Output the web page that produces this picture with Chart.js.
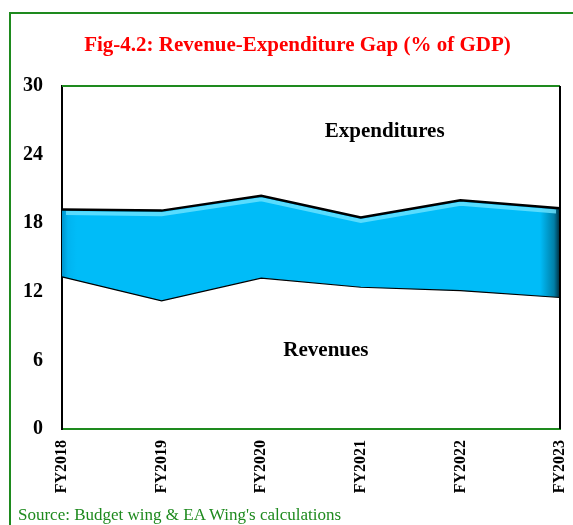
<!DOCTYPE html>
<html>
<head>
<meta charset="utf-8">
<script src="https://cdn.jsdelivr.net/npm/chart.js@4.4.0/dist/chart.umd.min.js"></script>
<style>
    html, body { margin: 0; padding: 0; background: #fff; width: 573px; height: 525px; overflow: hidden; }
    #frame { position: absolute; left: 9px; top: 12px; width: 620px; height: 620px; border: 2px solid #1e8a1e; box-sizing: border-box; }
    #wrap { position: absolute; left: 0; top: 0; width: 573px; height: 525px; }
    #source { position: absolute; left: 18px; top: 505px; font: 17px "Liberation Serif", serif; color: #1e8a1e; white-space: nowrap; }
</style>
</head>
<body>
<div id="frame"></div>
<div id="wrap"><canvas id="gapChart" width="573" height="525"></canvas></div>
<div id="source">Source: Budget wing &amp; EA Wing's calculations</div>

<script>
// === Dữ liệu ===
const years = ['FY2018', 'FY2019', 'FY2020', 'FY2021', 'FY2022', 'FY2023'];
const revenues = [13.3, 11.2, 13.2, 12.4, 12.1, 11.5];
const expenditures = [19.2, 19.1, 20.4, 18.5, 20.0, 19.3];
const yTicks = [0, 6, 12, 18, 24, 30];

const chartTitle = 'Fig-4.2: Revenue-Expenditure Gap (% of GDP)';

// nhãn trong vùng vẽ (toạ độ theo dữ liệu)
const areaLabels = ['Expenditures', 'Revenues'];
const areaLabelX = [3.24, 2.65];
const areaLabelY = [26.0, 6.9];

const GREEN = '#1e8a1e';
const SERIF = '"Liberation Serif", "Times New Roman", serif';

// khung vùng vẽ: trên xanh, phải đen + tiêu đề
const framePlugin = {
    id: 'frame',
    afterDraw(chart) {
        const { ctx, chartArea: a } = chart;
        ctx.save();
        ctx.lineWidth = 2;
        ctx.strokeStyle = GREEN;
        ctx.beginPath();
        ctx.moveTo(a.left, a.top);
        ctx.lineTo(a.right, a.top);
        ctx.stroke();
        ctx.strokeStyle = '#000';
        ctx.beginPath();
        ctx.moveTo(a.right, a.top);
        ctx.lineTo(a.right, a.bottom);
        ctx.stroke();

        // tiêu đề căn giữa theo khung ngoài
        ctx.font = 'bold 21px ' + SERIF;
        ctx.fillStyle = '#ff0000';
        ctx.textAlign = 'center';
        ctx.textBaseline = 'middle';
        ctx.fillText(chartTitle, 297.5, 46);
        ctx.restore();
    }
};

const labelPlugin = {
    id: 'areaLabels',
    afterDatasetsDraw(chart) {
        const { ctx, scales } = chart;
        ctx.save();
        ctx.font = 'bold 21px ' + SERIF;
        ctx.fillStyle = '#000';
        ctx.textAlign = 'center';
        ctx.textBaseline = 'middle';
        areaLabels.forEach((txt, i) => {
            ctx.fillText(txt, scales.x.getPixelForValue(areaLabelX[i]), scales.y.getPixelForValue(areaLabelY[i]));
        });
        ctx.restore();
    }
};

// vệt sáng ngay dưới đường chi tiêu
const shinePlugin = {
    id: 'shine',
    beforeDatasetDraw(chart, args) {
        if (args.index !== 2) return;
        const a = chart.chartArea;
        chart.ctx.save();
        chart.ctx.beginPath();
        chart.ctx.rect(a.left + 4, a.top, a.right - a.left - 8, a.bottom - a.top);
        chart.ctx.clip();
        chart.ctx.translate(0, 3.5);
    },
    afterDatasetDraw(chart, args) {
        if (args.index !== 2) return;
        chart.ctx.restore();
    }
};

function bandFill(context) {
    const chart = context.chart;
    const a = chart.chartArea;
    if (!a) return '#00bcf8';
    const g = chart.ctx.createLinearGradient(a.left, 0, a.right, 0);
    g.addColorStop(0, '#0094cc');
    g.addColorStop(0.012, '#00b4f0');
    g.addColorStop(0.03, '#00bcf8');
    g.addColorStop(0.96, '#00bcf8');
    g.addColorStop(0.988, '#007fa8');
    g.addColorStop(1, '#002a3a');
    return g;
}

const ctx = document.getElementById('gapChart').getContext('2d');
new Chart(ctx, {
    type: 'line',
    data: {
        labels: years,
        datasets: [{
            label: 'Revenues',
            data: revenues,
            borderColor: '#000',
            borderWidth: 1.2,
            pointRadius: 0,
            fill: false,
            order: 1
        }, {
            label: 'Expenditures',
            data: expenditures,
            borderColor: '#000',
            borderWidth: 2.5,
            pointRadius: 0,
            backgroundColor: bandFill,
            fill: '-1',
            order: 0
        }, {
            label: 'shine',
            data: expenditures,
            borderColor: 'rgba(110, 228, 255, 0.8)',
            borderWidth: 4,
            pointRadius: 0,
            fill: false,
            order: 2
        }]
    },
    plugins: [framePlugin, labelPlugin, shinePlugin],
    options: {
        responsive: false,
        animation: false,
        layout: { padding: { left: 0, right: 13, top: 86, bottom: 25 } },
        scales: {
            x: {
                offset: false,
                grid: { display: false, drawTicks: false },
                border: { color: GREEN, width: 2 },
                ticks: {
                    autoSkip: false,
                    minRotation: 90,
                    maxRotation: 90,
                    padding: 11,
                    color: '#000',
                    font: { family: SERIF, size: 16, weight: 'bold' }
                },
                afterFit(s) {
                    s.height = 71;
                    s.paddingLeft = 0;
                    s.paddingRight = 0;
                }
            },
            y: {
                min: 0,
                max: 30,
                grid: { display: false, drawTicks: false },
                border: { color: '#000', width: 2 },
                afterBuildTicks(s) { s.ticks = yTicks.map(v => ({ value: v })); },
                ticks: {
                    padding: 19,
                    color: '#000',
                    font: { family: SERIF, size: 20, weight: 'bold' }
                },
                afterFit(s) {
                    s.width = 62;
                    s.paddingTop = 0;
                    s.paddingBottom = 0;
                }
            }
        },
        plugins: {
            legend: { display: false },
            tooltip: { enabled: false },
            filler: { drawTime: 'beforeDatasetsDraw' },
            title: { display: false }
        }
    }
});
</script>
</body>
</html>
